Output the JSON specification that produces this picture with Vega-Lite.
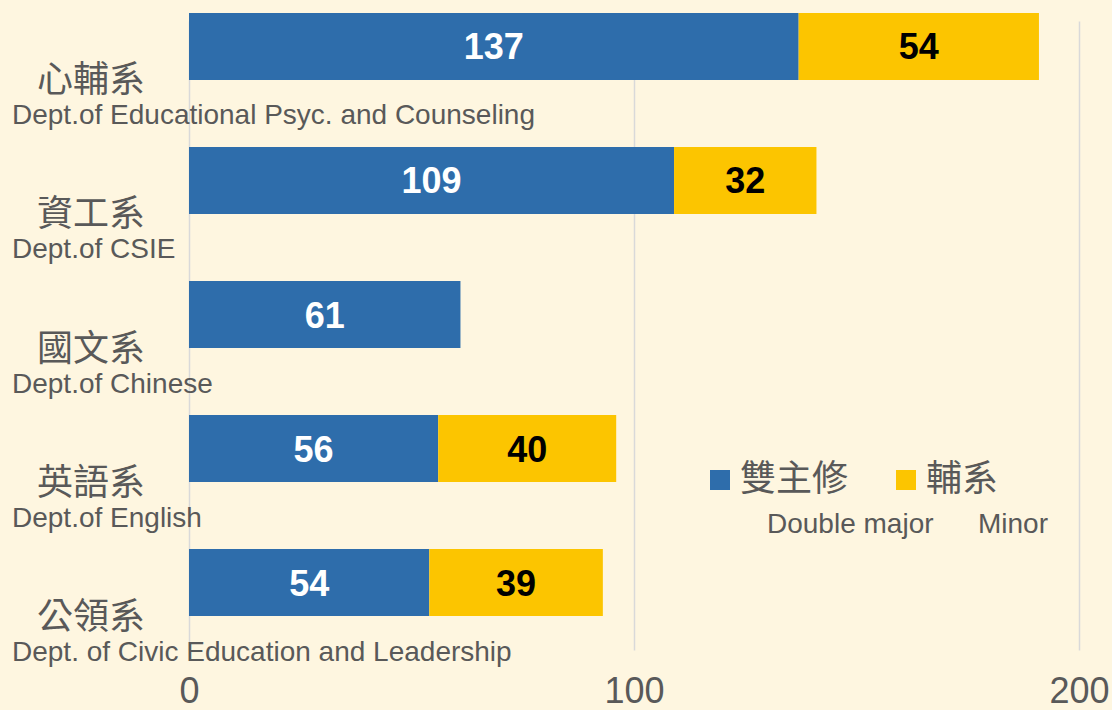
{
  "$schema": "https://vega.github.io/schema/vega-lite/v6.json",
  "width": 890,
  "height": 650,
  "autosize": {"type": "none"},
  "padding": {"left": 189, "top": 0, "right": 33, "bottom": 60},
  "background": "#FEF6E0",
  "config": {"view": {"stroke": null}, "font": "Liberation Sans, Noto Sans CJK TC"},
  "datasets": {
    "bars": [
      {"dept": "心輔系", "series": "雙主修", "value": 137},
      {"dept": "心輔系", "series": "輔系", "value": 54},
      {"dept": "資工系", "series": "雙主修", "value": 109},
      {"dept": "資工系", "series": "輔系", "value": 32},
      {"dept": "國文系", "series": "雙主修", "value": 61},
      {"dept": "英語系", "series": "雙主修", "value": 56},
      {"dept": "英語系", "series": "輔系", "value": 40},
      {"dept": "公領系", "series": "雙主修", "value": 54},
      {"dept": "公領系", "series": "輔系", "value": 39}
    ],
    "depts": [
      {"dept": "心輔系", "eng": "Dept.of Educational Psyc. and Counseling"},
      {"dept": "資工系", "eng": "Dept.of CSIE"},
      {"dept": "國文系", "eng": "Dept.of Chinese"},
      {"dept": "英語系", "eng": "Dept.of English"},
      {"dept": "公領系", "eng": "Dept. of Civic Education and Leadership"}
    ]
  },
  "layer": [
    {
      "data": {"name": "bars"},
      "transform": [{"stack": "value", "groupby": ["dept"], "sort": [{"field": "series", "order": "descending"}], "as": ["x0", "x1"]}],
      "mark": {"type": "bar"},
      "encoding": {
        "y": {"field": "dept", "type": "nominal", "scale": {"domain": ["心輔系", "資工系", "國文系", "英語系", "公領系"], "range": [0, 629], "paddingInner": 0.5, "paddingOuter": 0.097}, "axis": null},
        "x": {"field": "x0", "type": "quantitative", "scale": {"domain": [0, 200], "nice": false}, "axis": {"title": null, "values": [0, 100, 200], "grid": true, "gridColor": "#D9D9D9", "gridWidth": 1.5, "domain": false, "ticks": false, "labelFontSize": 36, "labelColor": "#595959", "labelPadding": 24, "labelFlush": false, "labelFont": "Liberation Sans"}},
        "x2": {"field": "x1"},
        "color": {"field": "series", "type": "nominal", "scale": {"domain": ["雙主修", "輔系"], "range": ["#2E6DAB", "#FCC500"]},
          "legend": {"orient": "none", "legendX": 513, "legendY": 462, "direction": "horizontal", "title": null, "symbolType": "square", "symbolSize": 400, "symbolStrokeWidth": 0, "labelFontSize": 36, "labelColor": "#595959", "labelOffset": 2, "columnPadding": 39, "padding": 0, "labelLimit": 400, "labelFont": "Liberation Sans, Noto Sans CJK TC"}}
      }
    },
    {
      "data": {"name": "bars"},
      "transform": [
        {"stack": "value", "groupby": ["dept"], "sort": [{"field": "series", "order": "descending"}], "as": ["x0", "x1"]},
        {"calculate": "(datum.x0 + datum.x1) / 2", "as": "mid"}
      ],
      "mark": {"type": "text", "fontWeight": "bold", "fontSize": 36, "align": "center", "baseline": "middle", "dy": 2, "font": "Liberation Sans"},
      "encoding": {
        "y": {"field": "dept", "type": "nominal", "scale": {"domain": ["心輔系", "資工系", "國文系", "英語系", "公領系"], "range": [0, 629], "paddingInner": 0.5, "paddingOuter": 0.097}, "axis": null},
        "x": {"field": "mid", "type": "quantitative", "scale": {"domain": [0, 200], "nice": false}, "axis": {"title": null, "values": [0, 100, 200], "grid": true, "gridColor": "#D9D9D9", "gridWidth": 1.5, "domain": false, "ticks": false, "labelFontSize": 36, "labelColor": "#595959", "labelPadding": 24, "labelFlush": false, "labelFont": "Liberation Sans"}},
        "text": {"field": "value", "type": "quantitative"},
        "color": {"field": "series", "type": "nominal", "scale": {"domain": ["雙主修", "輔系"], "range": ["#FFFFFF", "#000000"]},
          "legend": {"orient": "none", "legendX": 550, "legendY": 511, "direction": "horizontal", "title": null, "symbolSize": 1, "symbolOpacity": 0, "symbolStrokeWidth": 0, "labelFontSize": 28, "labelColor": "#595959", "labelOffset": 0, "columnPadding": 16, "padding": 0, "labelLimit": 400, "labelFont": "Liberation Sans",
            "labelExpr": "datum.label == '雙主修' ? 'Double major' : 'Minor'"}}
      }
    },
    {
      "data": {"name": "depts"},
      "mark": {"type": "text", "fontSize": 36, "align": "center", "baseline": "middle", "dx": -98, "dy": 35, "color": "#595959", "font": "Liberation Sans, Noto Sans CJK TC"},
      "encoding": {
        "y": {"field": "dept", "type": "nominal", "scale": {"domain": ["心輔系", "資工系", "國文系", "英語系", "公領系"], "range": [0, 629], "paddingInner": 0.5, "paddingOuter": 0.097}, "axis": null},
        "x": {"datum": 0, "type": "quantitative"},
        "text": {"field": "dept"}
      }
    },
    {
      "data": {"name": "depts"},
      "mark": {"type": "text", "fontSize": 28, "align": "left", "baseline": "middle", "dx": -177, "dy": 70, "color": "#595959", "font": "Liberation Sans"},
      "encoding": {
        "y": {"field": "dept", "type": "nominal", "scale": {"domain": ["心輔系", "資工系", "國文系", "英語系", "公領系"], "range": [0, 629], "paddingInner": 0.5, "paddingOuter": 0.097}, "axis": null},
        "x": {"datum": 0, "type": "quantitative"},
        "text": {"field": "eng"}
      }
    }
  ],
  "resolve": {"scale": {"color": "independent"}}
}
